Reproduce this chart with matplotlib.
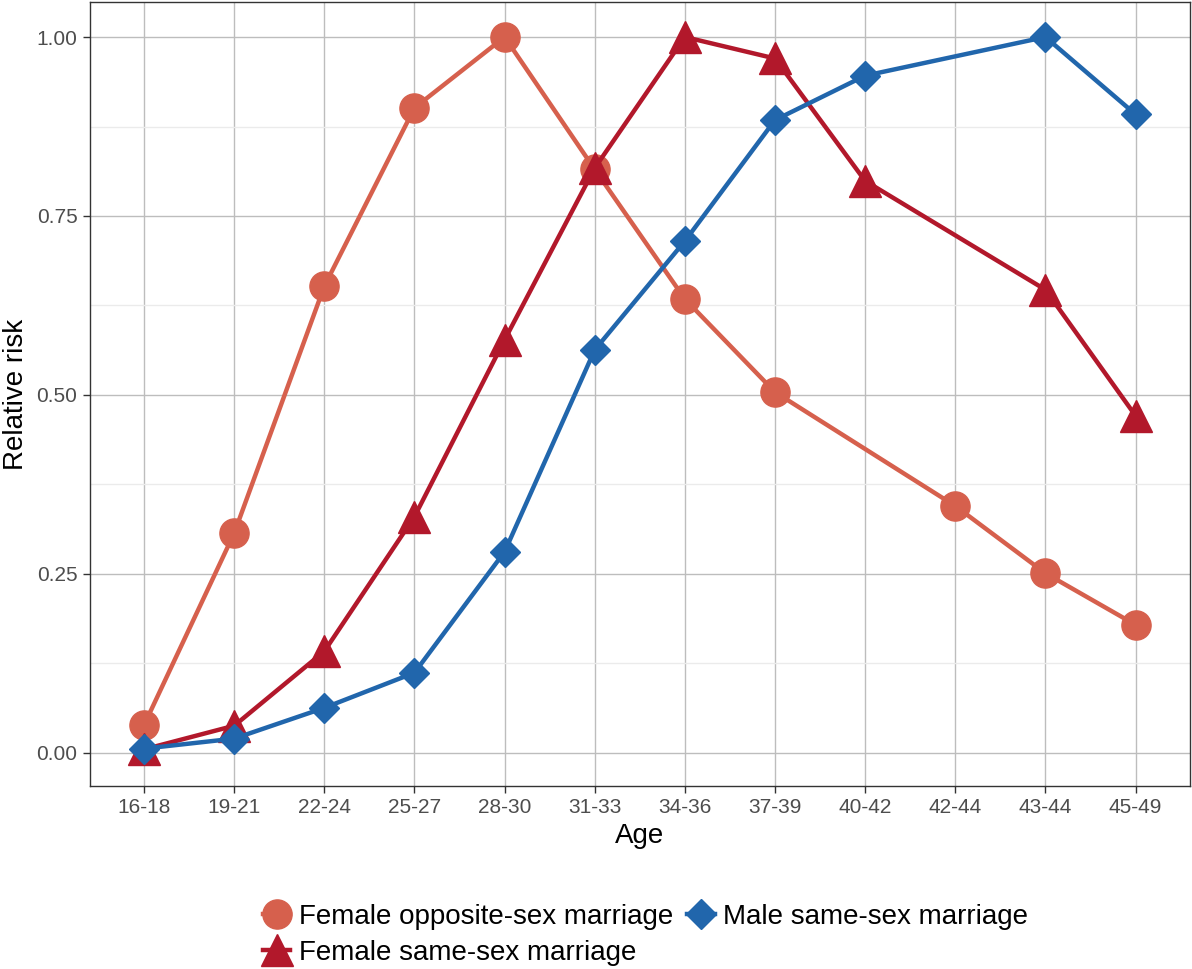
import numpy as np
import matplotlib
import matplotlib.pyplot as plt

matplotlib.use('Agg')
plt.rcParams['font.family'] = ['Liberation Sans', 'DejaVu Sans']

# 데이터
ages = ['16-18', '19-21', '22-24', '25-27', '28-30', '31-33',
        '34-36', '37-39', '40-42', '42-44', '43-44', '45-49']
female_opposite = [0.039, 0.307, 0.652, 0.901, 1.0, 0.815,
                   0.634, 0.504, None, 0.345, 0.251, 0.179]
female_same = [0.005, 0.038, 0.142, 0.330, 0.577, 0.817,
               1.0, 0.970, 0.799, None, 0.647, 0.471]
male_same = [0.006, 0.020, 0.063, 0.112, 0.281, 0.563,
             0.715, 0.884, 0.946, None, 1.0, 0.892]
y_ticks = [0.0, 0.25, 0.5, 0.75, 1.0]
y_minor = [0.125, 0.375, 0.625, 0.875]

series = [
    ("Female opposite-sex marriage", female_opposite, '#D6604D', 'o', 21),
    ("Female same-sex marriage", female_same, '#B2182B', '^', 23),
    ("Male same-sex marriage", male_same, '#2166AC', 'D', 15),
]

fig = plt.figure(figsize=(11.92, 9.69), dpi=100)
ax = fig.add_axes([0.0755, 0.189, 0.9225, 0.809])

for label, vals, color, marker, ms in series:
    xs = [i for i, v in enumerate(vals) if v is not None]
    ys = [v for v in vals if v is not None]
    ax.plot(xs, ys, color=color, linewidth=3.2, marker=marker,
            markersize=ms, label=label, zorder=3)

ax.set_xlim(-0.6, len(ages) - 0.4)
ax.set_ylim(-0.046, 1.049)
ax.set_xticks(range(len(ages)))
ax.set_xticklabels(ages)
ax.set_yticks(y_ticks)
ax.set_yticks(y_minor, minor=True)
ax.set_yticklabels(['%.2f' % v for v in y_ticks])

ax.grid(True, which='major', color='#bdbdbd', linewidth=1.0)
ax.grid(True, which='minor', axis='y', color='#ebebeb', linewidth=1.0)
ax.set_axisbelow(True)
for s in ax.spines.values():
    s.set_color('#333333')
    s.set_linewidth(1.0)

ax.tick_params(which='major', labelsize=15, colors='#333333', length=5,
               width=1.0, labelcolor='#4d4d4d', pad=4)
ax.tick_params(which='minor', length=0)

ax.set_xlabel("Age", fontsize=20, labelpad=4)
ax.set_ylabel("Relative risk", fontsize=20, va='center')
ax.yaxis.set_label_coords(-0.0675, 0.5)

ax.legend(loc='center', bbox_to_anchor=(0.505, -0.19), ncol=2, frameon=False,
          fontsize=20, handlelength=1.0, handletextpad=0.3,
          columnspacing=0.5, labelspacing=0.35, borderaxespad=0)

fig.savefig("out.png", dpi=100)
